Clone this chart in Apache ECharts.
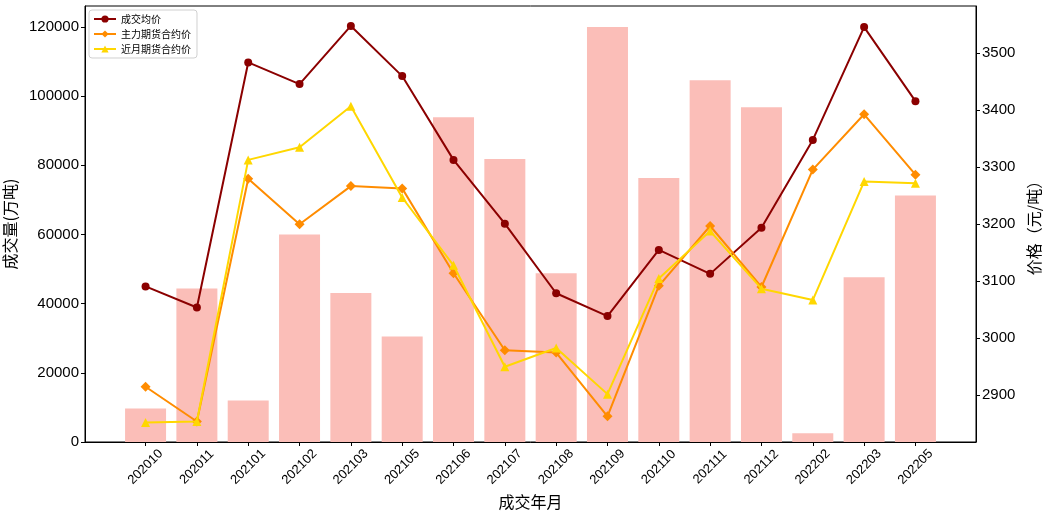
<!DOCTYPE html>
<html>
<head>
<meta charset="utf-8">
<script src="https://cdn.jsdelivr.net/npm/echarts@6/dist/echarts.min.js"></script>
<style>
  html, body { margin: 0; padding: 0; background: #fff; }
  #chart { width: 1047px; height: 514px; }
</style>
</head>
<body>
<div id="chart"></div>
<script>
// 成交年月
const months = ['202010', '202011', '202101', '202102', '202103', '202105', '202106', '202107',
  '202108', '202109', '202110', '202111', '202112', '202202', '202203', '202205']
// 成交量(万吨)
const volume = [9700, 44400, 12000, 60000, 43100, 30500, 93900, 81800,
  48800, 120000, 76300, 104600, 96800, 2550, 47600, 71300]
// 成交均价
const avgPrice = [3091, 3054, 3484, 3446, 3548, 3460, 3313, 3201,
  3079, 3039, 3155, 3113, 3194, 3348, 3546, 3416]
// 主力期货合约价
const mainPrice = [2915, 2854, 3280, 3200, 3267, 3263, 3114, 2979,
  2975, 2863, 3092, 3197, 3090, 3296, 3393, 3287]
// 近月期货合约价
const nearPrice = [2852, 2854, 3313, 3335, 3407, 3247, 3128, 2950,
  2983, 2902, 3105, 3188, 3087, 3067, 3275, 3272]
const leftTicks = [0, 20000, 40000, 60000, 80000, 100000, 120000]
const rightTicks = [2900, 3000, 3100, 3200, 3300, 3400, 3500]

const idx = months.map((m, i) => i)
const pair = arr => arr.map((v, i) => [i, v])

const chart = echarts.init(document.getElementById('chart'))
const font = '"Liberation Sans", "Noto Sans CJK SC", sans-serif'
const cjk = '"Noto Sans CJK SC", "Liberation Sans", sans-serif'

chart.setOption({
  animation: false,
  textStyle: { fontFamily: font },
  grid: {
    left: 85, right: 71, top: 6, bottom: 72,
    outerBoundsMode: 'none',
    containLabel: false,
    show: true, borderColor: '#000', borderWidth: 1
  },
  legend: {
    orient: 'vertical',
    left: 89, top: 10,
    itemWidth: 22, itemHeight: 9, itemGap: 5,
    padding: [4, 6, 4, 4],
    borderColor: '#d0d0d0', borderWidth: 1, borderRadius: 3,
    textStyle: { fontSize: 10, fontFamily: cjk, color: '#000' },
    data: ['成交均价', '主力期货合约价', '近月期货合约价']
  },
  xAxis: {
    type: 'value',
    min: -1.18, max: 16.18,
    name: '成交年月',
    nameLocation: 'middle',
    nameGap: 45,
    nameTextStyle: { fontSize: 16, fontFamily: cjk, color: '#000' },
    splitLine: { show: false },
    axisLine: { show: true, onZero: false, lineStyle: { color: '#000' } },
    axisTick: { show: true, length: 4, lineStyle: { color: '#000' }, customValues: idx },
    axisLabel: {
      customValues: idx,
      rotate: 45, fontSize: 13, color: '#000', margin: 25,
      align: 'center', verticalAlign: 'middle',
      formatter: v => months[Math.round(v)] || ''
    }
  },
  yAxis: [
    {
      type: 'value',
      min: 0, max: 126050,
      name: '成交量(万吨)',
      nameLocation: 'middle',
      nameRotate: 90,
      nameGap: 58,
      nameTextStyle: { fontSize: 16, fontFamily: cjk, color: '#000' },
      splitLine: { show: false },
      axisLine: { show: true, onZero: false, lineStyle: { color: '#000' } },
      axisTick: { show: true, length: 4, lineStyle: { color: '#000' }, customValues: leftTicks },
      axisLabel: { fontSize: 15, color: '#000', margin: 6,
        customValues: leftTicks, formatter: v => String(v) }
    },
    {
      type: 'value',
      min: 2818, max: 3583,
      position: 'right',
      name: '价格（元/吨）',
      nameLocation: 'middle',
      nameRotate: 90,
      nameGap: 49,
      nameTextStyle: { fontSize: 16, fontFamily: cjk, color: '#000' },
      splitLine: { show: false },
      axisLine: { show: true, onZero: false, lineStyle: { color: '#000' } },
      axisTick: { show: true, length: 4, lineStyle: { color: '#000' }, customValues: rightTicks },
      axisLabel: { fontSize: 15, color: '#000', margin: 6,
        customValues: rightTicks, formatter: v => String(v) }
    }
  ],
  series: [
    {
      name: '成交量',
      type: 'bar',
      yAxisIndex: 0,
      barWidth: 41,
      itemStyle: { color: '#fbbeb8' },
      data: pair(volume),
      z: 1
    },
    {
      name: '成交均价',
      type: 'line',
      yAxisIndex: 1,
      symbol: 'circle', symbolSize: 8,
      lineStyle: { width: 2, color: '#8b0000' },
      itemStyle: { color: '#8b0000' },
      data: pair(avgPrice),
      z: 5
    },
    {
      name: '主力期货合约价',
      type: 'line',
      yAxisIndex: 1,
      symbol: 'diamond', symbolSize: 10,
      lineStyle: { width: 2, color: '#ff8c00' },
      itemStyle: { color: '#ff8c00' },
      data: pair(mainPrice),
      z: 6
    },
    {
      name: '近月期货合约价',
      type: 'line',
      yAxisIndex: 1,
      symbol: 'triangle', symbolSize: 9,
      lineStyle: { width: 2, color: '#ffd700' },
      itemStyle: { color: '#ffd700' },
      data: pair(nearPrice),
      z: 7
    }
  ]
})
</script>
</body>
</html>
